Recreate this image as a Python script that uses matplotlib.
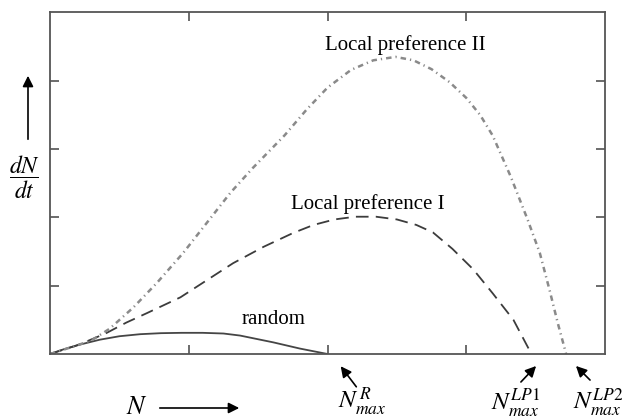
import numpy as np
import matplotlib
matplotlib.use('Agg')
import matplotlib.pyplot as plt

plt.rcParams['font.family'] = ['Liberation Serif', 'DejaVu Serif']
plt.rcParams['mathtext.fontset'] = 'stix'

# values (N on x, dN/dt on y, arbitrary units)
random_x = [0, 0.1, 0.2, 0.36, 0.5, 0.65, 0.8, 0.95, 1.1, 1.25, 1.37,
            1.49, 1.61, 1.8, 2.0]
random_y = [0, 0.07, 0.13, 0.21, 0.26, 0.29, 0.305, 0.31, 0.31, 0.3, 0.27,
            0.22, 0.17, 0.08, 0.0]

lp1_x = [0, 0.2, 0.4, 0.55, 0.7, 0.94, 1.13, 1.32, 1.54, 1.75, 1.9, 2.05,
         2.2, 2.35, 2.5, 2.64, 2.76, 2.90, 3.05, 3.19, 3.34, 3.47]
lp1_y = [0, 0.13, 0.3, 0.46, 0.6, 0.83, 1.08, 1.33, 1.57, 1.77, 1.89, 1.97,
         2.01, 2.01, 1.97, 1.89, 1.78, 1.54, 1.24, 0.89, 0.5, 0.0]

lp2_x = [0, 0.2, 0.3, 0.43, 0.6, 0.77, 0.96, 1.13, 1.30, 1.46, 1.69, 1.85,
         2.0, 2.17, 2.33, 2.49, 2.62, 2.75, 2.88, 3.0, 3.1, 3.19, 3.32, 3.44,
         3.53, 3.60, 3.66, 3.72]
lp2_y = [0, 0.13, 0.2, 0.37, 0.68, 1.04, 1.48, 1.92, 2.36, 2.72, 3.2, 3.58,
         3.9, 4.16, 4.3, 4.35, 4.3, 4.17, 3.98, 3.75, 3.5, 3.2, 2.6, 1.98,
         1.48, 0.94, 0.45, 0.0]

W, H = 622, 419
fig = plt.figure(figsize=(W / 100, H / 100), dpi=100)
ax = fig.add_axes([50 / W, 1 - 354 / H, 555 / W, 341.5 / H])

ax.plot(random_x, random_y, color='#454545', lw=1.3, solid_capstyle='round')
ax.plot(lp1_x, lp1_y, color='#3c3c3c', lw=1.3, dashes=(7, 4))
ax.plot(lp2_x, lp2_y, color='#8a8a8a', lw=1.8, dashes=(2.2, 1.6, 0.5, 1.6))

ax.set_xlim(0, 4)
ax.set_ylim(0, 5)
ax.set_xticks([1, 2, 3])
ax.set_yticks([1, 2, 3, 4])
ax.tick_params(direction='in', length=6.5, width=1.1, color='#444444',
               top=True, right=True, labelbottom=False, labelleft=False)
for s in ax.spines.values():
    s.set_color('#555555')
    s.set_linewidth(1.3)

ax.text(2.56, 4.52, 'Local preference II', ha='center', va='center', fontsize=15)
ax.text(2.29, 2.2, 'Local preference I', ha='center', va='center', fontsize=15)
ax.text(1.61, 0.5, 'random', ha='center', va='center', fontsize=15)

# helper: pixel position -> figure fraction
def fp(px, py):
    return (px / W, 1 - py / H)

arr = dict(arrowstyle='-|>', color='black', lw=1.2, mutation_scale=16)

# y axis label with arrow
fig.text(*fp(24, 177), r'$\dfrac{dN}{dt}$', ha='center', va='center', fontsize=17)
ax.annotate('', xy=fp(28, 73), xytext=fp(28, 142), xycoords='figure fraction',
            textcoords='figure fraction', arrowprops=arr, annotation_clip=False)

# x axis label with arrow
fig.text(*fp(137, 408), r'$N$', ha='center', va='center', fontsize=19)
ax.annotate('', xy=fp(242, 408), xytext=fp(157, 408), xycoords='figure fraction',
            textcoords='figure fraction', arrowprops=arr, annotation_clip=False)

# N_max labels and pointers
fig.text(*fp(362, 402), r'$N_{max}^{\,R}$', ha='center', va='center', fontsize=18)
ax.annotate('', xy=fp(339, 364), xytext=fp(358, 389), xycoords='figure fraction',
            textcoords='figure fraction', arrowprops=arr, annotation_clip=False)

fig.text(*fp(516, 402), r'$N_{max}^{LP1}$', ha='center', va='center', fontsize=18)
ax.annotate('', xy=fp(538, 364), xytext=fp(519, 384), xycoords='figure fraction',
            textcoords='figure fraction', arrowprops=arr, annotation_clip=False)

fig.text(*fp(598, 402), r'$N_{max}^{LP2}$', ha='center', va='center', fontsize=18)
ax.annotate('', xy=fp(574, 364), xytext=fp(592, 382), xycoords='figure fraction',
            textcoords='figure fraction', arrowprops=arr, annotation_clip=False)

fig.savefig('out.png', dpi=100)
